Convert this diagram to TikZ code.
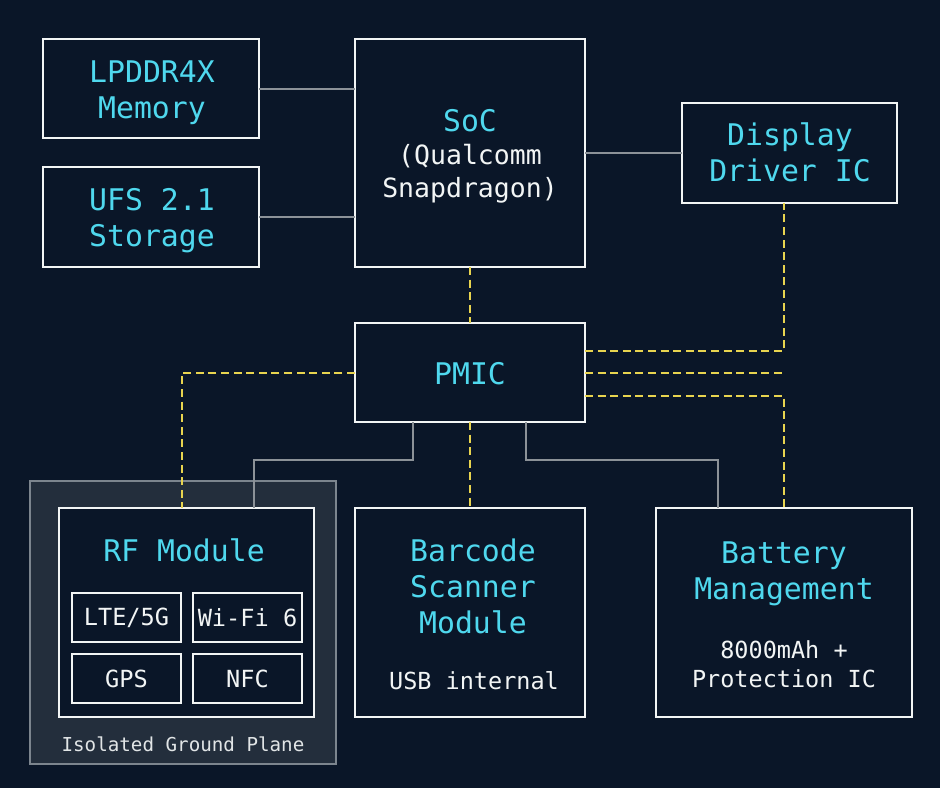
\documentclass[tikz,border=0pt]{standalone}
\usepackage{fontspec}
\setmainfont{DejaVu Sans Mono}
\definecolor{bgc}{HTML}{0A1628}
\definecolor{planec}{HTML}{232E3C}
\definecolor{planeb}{HTML}{7C858E}
\definecolor{titlec}{HTML}{4FD8EE}
\definecolor{textc}{HTML}{F2F5F5}
\definecolor{linec}{HTML}{8C9298}
\definecolor{powerc}{HTML}{E8D44F}
\tikzset{
  x=1pt,y=-1pt,
  block/.style={draw=textc,line width=2.6pt,fill=bgc,inner sep=0pt,outer sep=0pt,minimum width=#1},
  title/.style={text=titlec,align=center,inner sep=0pt,font=\fontsize{29.8}{36}\selectfont},
  sub/.style={text=textc,align=center,inner sep=0pt,font=\fontsize{23.5}{29}\selectfont},
  chip/.style={draw=textc,line width=2.2pt,fill=bgc,inner sep=0pt,outer sep=0pt,minimum width=109pt,minimum height=49pt,text=textc,font=\fontsize{23.6}{28}\selectfont},
  data/.style={draw=linec,line width=2pt},
  power/.style={draw=powerc,line width=2.3pt,dash pattern=on 8pt off 4.6pt},
}
\begin{document}
\begin{tikzpicture}
\useasboundingbox (0,0) rectangle (940,788);
\fill[bgc] (0,0) rectangle (940,788);
\node[draw=planeb,line width=2.4pt,fill=planec,minimum width=306pt,minimum height=283pt,inner sep=0pt,outer sep=0pt] (plane) at (183,622.5) {};
\node[text=textc!92!planec,inner sep=0pt,font=\fontsize{19.2}{23}\selectfont] (planelabel) at (183,744.5) {Isolated Ground Plane};

\node[block=216pt,minimum height=99pt] (mem) at (151,88.5) {};
\node[block=216pt,minimum height=100pt] (ufs) at (151,217) {};
\node[block=230pt,minimum height=228pt] (soc) at (470,153) {};
\node[block=215pt,minimum height=100pt] (disp) at (789.5,153) {};
\node[block=230pt,minimum height=99pt] (pmic) at (470,372.5) {};
\node[block=255pt,minimum height=209pt] (rf) at (186.5,612.5) {};
\node[block=230pt,minimum height=209pt] (scan) at (470,612.5) {};
\node[block=256pt,minimum height=209pt] (batt) at (784,612.5) {};

\node[title] (memt) at (152,92.5) {LPDDR4X\\Memory};
\node[title] (ufst) at (152,221) {UFS 2.1\\Storage};
\node[title] (soct) at (470,121) {SoC};
\node[sub,font=\fontsize{26.5}{33}\selectfont] (socs) at (470,174) {(Qualcomm\\Snapdragon)};
\node[title] (dispt) at (790,152.5) {Display\\Driver IC};
\node[title] (pmict) at (470,374) {PMIC};
\node[title] (rft) at (184,550) {RF Module};
\node[title] (scant) at (473,586) {Barcode\\Scanner\\Module};
\node[sub] (scans) at (474,681) {USB internal};
\node[title] (battt) at (784,574) {Battery\\Management};
\node[sub] (batts) at (784,664) {8000mAh +\\Protection IC};

\node[chip] (lte) at (126.5,617.5) {LTE/5G};
\node[chip] (wifi) at (247.5,617.5) {Wi-Fi 6};
\node[chip] (gps) at (126.5,678.5) {GPS};
\node[chip] (nfc) at (247.5,678.5) {NFC};

\coordinate (pwrend) at (783,373);
\coordinate (dispdrop) at (784,351);
\coordinate (battdrop) at (784,396);
\coordinate (rfdrop) at (182,373);
\draw[data] (mem.east) -- (soc.west |- mem.east);
\draw[data] (ufs.east) -- (soc.west |- ufs.east);
\draw[data] (soc.east |- disp.west) -- (disp.west);
\draw[data] (pmic.south -| 413,0) -- (413,460) -- (254,460) -- (rf.north -| 254,0);
\draw[data] (pmic.south -| 526,0) -- (526,460) -- (718,460) -- (batt.north -| 718,0);
\draw[power] (soc.south) -- (pmic.north);
\draw[power] (pmic.south) -- (scan.north);
\draw[power] (pmic.west |- rfdrop) -- (rfdrop) -- (rf.north -| rfdrop);
\draw[power] (pmic.east |- dispdrop) -- (dispdrop) -- (disp.south -| dispdrop);
\draw[power] (pmic.east |- pwrend) -- (pwrend);
\draw[power] (pmic.east |- battdrop) -- (battdrop) -- (batt.north);
\end{tikzpicture}
\end{document}
